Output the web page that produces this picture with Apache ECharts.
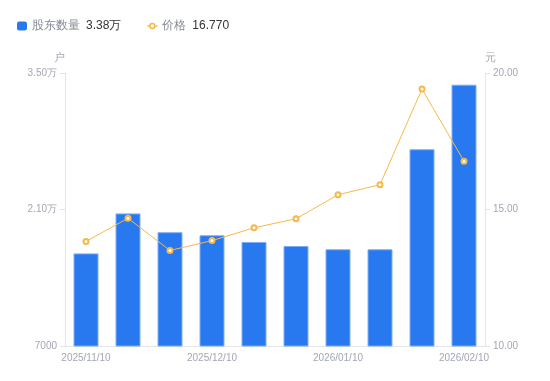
<!DOCTYPE html>
<html><head><meta charset="utf-8">
<script src="https://cdn.jsdelivr.net/npm/echarts@6/dist/echarts.min.js"></script>
<style>html,body{margin:0;padding:0;background:#fff}#c{width:550px;height:381px}</style>
</head><body><div id="c"></div>
<script>
const categories = ['2025/11/10','2025/11/20','2025/11/30','2025/12/10','2025/12/20','2025/12/31','2026/01/10','2026/01/20','2026/01/31','2026/02/10'];
const holders = [16500, 20600, 18670, 18360, 17670, 17260, 16920, 16920, 27180, 33800];
const prices = [13.83, 14.68, 13.50, 13.86, 14.33, 14.66, 15.54, 15.91, 19.41, 16.77];
const leftTicks = {min: 7000, max: 35000, interval: 14000};
const rightTicks = {min: 10, max: 20, interval: 5};
const legendValues = {'股东数量': '3.38万', '价格': '16.770'};

const chart = echarts.init(document.getElementById('c'));
const axisColor = '#e3e5ea';
const labelColor = '#a3a6b4';
const font = 'sans-serif';
const ringIcon = 'path://M0,7.6H4V10.4H0Z M16,7.6H20V10.4H16Z M3.4,9A6.6,6.6 0 1,0 16.6,9A6.6,6.6 0 1,0 3.4,9Z M6.6,9A3.4,3.4 0 1,1 13.4,9A3.4,3.4 0 1,1 6.6,9Z';
chart.setOption({
  animation: false,
  textStyle: {fontFamily: font},
  legend: {
    left: 12, top: 15,
    itemWidth: 10, itemHeight: 9, itemGap: 26,
    textStyle: {fontSize: 12, rich: {a: {color: '#868a97', fontSize: 12}, b: {color: '#333', fontSize: 12, padding: [0,0,0,6]}}},
    formatter: n => '{a|' + n + '}{b|' + legendValues[n] + '}',
    data: [
      {name: '股东数量', icon: 'roundRect', itemStyle: {borderWidth: 0}},
      {name: '价格', icon: ringIcon, itemStyle: {color: '#f7b84a', borderWidth: 0}}
    ]
  },
  grid: {left: 65, right: 65, top: 73, bottom: 35},
  xAxis: {
    type: 'category', data: categories,
    axisLine: {lineStyle: {color: axisColor}},
    axisTick: {show: false},
    axisLabel: {color: labelColor, fontSize: 10, interval: 2, margin: 7}
  },
  yAxis: [{
    type: 'value', name: '户', min: leftTicks.min, max: leftTicks.max, interval: leftTicks.interval,
    nameGap: 10, nameTextStyle: {color: labelColor, fontSize: 11, align: 'right'},
    axisLine: {show: true, lineStyle: {color: axisColor}},
    axisTick: {show: true, length: 5, lineStyle: {color: axisColor}},
    splitLine: {show: false},
    axisLabel: {color: labelColor, fontSize: 10, margin: 8,
      formatter: v => v >= 10000 ? (v/10000).toFixed(2) + '万' : String(v)}
  }, {
    type: 'value', name: '元', min: rightTicks.min, max: rightTicks.max, interval: rightTicks.interval,
    nameGap: 10, nameTextStyle: {color: labelColor, fontSize: 11, align: 'left'},
    axisLine: {show: true, lineStyle: {color: axisColor}},
    axisTick: {show: true, length: 5, lineStyle: {color: axisColor}},
    splitLine: {show: false},
    axisLabel: {color: labelColor, fontSize: 10, margin: 8, formatter: v => v.toFixed(2)}
  }],
  series: [{
    name: '股东数量', type: 'bar', data: holders, yAxisIndex: 0, barWidth: 25,
    itemStyle: {color: '#2878f0', borderColor: '#80adf6', borderWidth: 1}
  }, {
    name: '价格', type: 'line', data: prices, yAxisIndex: 1,
    symbol: 'emptyCircle', symbolSize: 5,
    lineStyle: {color: '#f7b84a', width: 1},
    itemStyle: {color: '#f7b84a', borderWidth: 2}
  }]
});
</script></body></html>
